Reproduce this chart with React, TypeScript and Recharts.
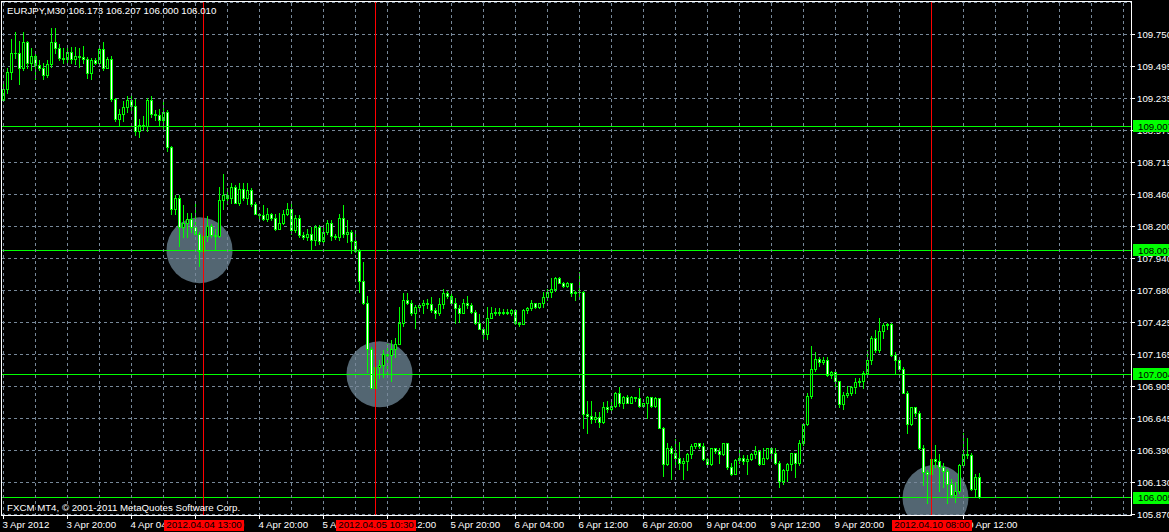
import React from "react";
import {
  ComposedChart,
  Bar,
  XAxis,
  YAxis,
  CartesianGrid,
  ReferenceLine,
  ReferenceDot,
} from "recharts";

// EURJPY M30, 3 Apr 12:00 .. 10 Apr 14:00 (245 bars); open of each bar is the previous close
const FIRST_OPEN = 109.22;
const CLOSE = [
  109.31, 109.45, 109.6, 109.6, 109.48, 109.69, 109.52, 109.58, 109.5, 109.48,
  109.42, 109.51, 109.69, 109.64, 109.56, 109.55, 109.61, 109.55, 109.58, 109.57,
  109.55, 109.44, 109.54, 109.52, 109.63, 109.48, 109.55, 109.23, 109.07, 109.11,
  109.16, 109.22, 109.17, 108.97, 109.02, 109.01, 109.22, 109.11, 109.1, 109.06,
  109.12, 108.84, 108.34, 108.43, 108.19, 108.23, 108.26, 108.19, 108.14, 108.0,
  108.12, 108.2, 108.13, 108.12, 108.41, 108.45, 108.43, 108.52, 108.39, 108.5,
  108.43, 108.49, 108.38, 108.3, 108.29, 108.26, 108.3, 108.27, 108.18, 108.23,
  108.3, 108.34, 108.17, 108.27, 108.13, 108.11, 108.14, 108.09, 108.19, 108.08,
  108.15, 108.23, 108.12, 108.11, 108.27, 108.14, 108.15, 108.08, 108.0, 107.76,
  107.58, 107.21, 106.89, 107.06, 107.08, 107.17, 107.16, 107.21, 107.25, 107.42,
  107.6, 107.58, 107.5, 107.55, 107.56, 107.58, 107.57, 107.52, 107.5, 107.57,
  107.66, 107.64, 107.58, 107.54, 107.5, 107.58, 107.56, 107.51, 107.42, 107.37,
  107.33, 107.46, 107.5, 107.51, 107.5, 107.51, 107.5, 107.52, 107.42, 107.41,
  107.52, 107.54, 107.58, 107.55, 107.58, 107.63, 107.67, 107.69, 107.78, 107.74,
  107.72, 107.74, 107.66, 107.67, 107.67, 106.68, 106.67, 106.64, 106.66, 106.62,
  106.74, 106.72, 106.75, 106.85, 106.77, 106.82, 106.77, 106.82, 106.81, 106.75,
  106.77, 106.82, 106.75, 106.81, 106.57, 106.28, 106.41, 106.37, 106.33, 106.29,
  106.3, 106.36, 106.42, 106.45, 106.42, 106.32, 106.28, 106.41, 106.38, 106.36,
  106.45, 106.25, 106.2, 106.31, 106.33, 106.3, 106.32, 106.36, 106.38, 106.28,
  106.33, 106.41, 106.37, 106.29, 106.14, 106.23, 106.28, 106.37, 106.29, 106.45,
  106.6, 106.83, 107.05, 107.13, 107.1, 107.12, 107.0, 107.02, 106.95, 106.76,
  106.84, 106.85, 106.9, 106.94, 106.95, 107.01, 107.12, 107.3, 107.2, 107.35,
  107.4, 107.41, 107.16, 107.12, 107.05, 106.85, 106.6, 106.74, 106.69, 106.41,
  106.21, 106.2, 106.32, 106.3, 106.25, 106.22, 106.12, 106.03, 106.06, 106.27,
  106.36, 106.35, 106.08, 106.173, 106.01,
];
const HIGH = [
  109.35, 109.48, 109.71, 109.77, 109.7, 109.77, 109.7, 109.64, 109.62, 109.54,
  109.52, 109.54, 109.8, 109.8, 109.67, 109.64, 109.65, 109.65, 109.65, 109.64,
  109.66, 109.57, 109.56, 109.56, 109.65, 109.69, 109.57, 109.58, 109.24, 109.15,
  109.21, 109.25, 109.25, 109.23, 109.07, 109.09, 109.24, 109.25, 109.14, 109.15,
  109.22, 109.14, 108.85, 108.45, 108.45, 108.37, 108.31, 108.31, 108.39, 108.15,
  108.17, 108.28, 108.22, 108.18, 108.52, 108.62, 108.51, 108.55, 108.53, 108.55,
  108.55, 108.55, 108.51, 108.4, 108.31, 108.37, 108.35, 108.31, 108.3, 108.31,
  108.33, 108.39, 108.39, 108.29, 108.29, 108.15, 108.18, 108.19, 108.21, 108.21,
  108.19, 108.25, 108.25, 108.14, 108.3, 108.37, 108.25, 108.17, 108.17, 108.02,
  107.91, 107.64, 107.22, 107.12, 107.12, 107.2, 107.25, 107.28, 107.3, 107.55,
  107.66, 107.66, 107.6, 107.56, 107.58, 107.6, 107.61, 107.63, 107.54, 107.62,
  107.69, 107.68, 107.66, 107.62, 107.56, 107.61, 107.64, 107.58, 107.52, 107.49,
  107.37, 107.55, 107.55, 107.54, 107.54, 107.53, 107.53, 107.53, 107.53, 107.43,
  107.53, 107.55, 107.6, 107.58, 107.58, 107.67, 107.69, 107.78, 107.79, 107.79,
  107.75, 107.75, 107.74, 107.68, 107.83, 107.68, 106.79, 106.79, 106.7, 106.7,
  106.78, 106.79, 106.78, 106.86, 106.9, 106.83, 106.84, 106.83, 106.82, 106.89,
  106.77, 106.83, 106.82, 106.82, 106.81, 106.58, 106.45, 106.42, 106.48, 106.46,
  106.33, 106.37, 106.44, 106.45, 106.45, 106.45, 106.33, 106.41, 106.41, 106.41,
  106.45, 106.45, 106.29, 106.32, 106.39, 106.35, 106.35, 106.37, 106.42, 106.39,
  106.41, 106.41, 106.41, 106.41, 106.3, 106.24, 106.29, 106.37, 106.37, 106.47,
  106.61, 106.85, 107.23, 107.18, 107.14, 107.14, 107.14, 107.03, 107.03, 106.95,
  106.86, 106.91, 106.91, 106.97, 106.97, 107.03, 107.2, 107.31, 107.36, 107.46,
  107.42, 107.42, 107.42, 107.18, 107.13, 107.06, 106.87, 106.74, 106.74, 106.71,
  106.43, 106.23, 106.32, 106.43, 106.36, 106.29, 106.24, 106.16, 106.13, 106.28,
  106.53, 106.49, 106.37, 106.2, 106.207,
];
const LOW = [
  109.22, 109.28, 109.39, 109.56, 109.35, 109.46, 109.48, 109.46, 109.39, 109.46,
  109.39, 109.41, 109.49, 109.6, 109.54, 109.52, 109.51, 109.52, 109.51, 109.49,
  109.52, 109.4, 109.39, 109.51, 109.51, 109.46, 109.48, 109.21, 109.05, 109.02,
  109.05, 109.12, 109.14, 108.94, 108.92, 108.98, 108.97, 109.08, 109.06, 109.02,
  108.98, 108.81, 108.3, 108.3, 108.04, 108.11, 108.11, 108.15, 108.14, 107.88,
  107.97, 108.08, 108.11, 108.02, 108.11, 108.34, 108.38, 108.39, 108.39, 108.37,
  108.41, 108.38, 108.36, 108.3, 108.27, 108.25, 108.24, 108.25, 108.17, 108.18,
  108.22, 108.29, 108.14, 108.15, 108.11, 108.1, 108.09, 108.01, 108.05, 108.06,
  108.06, 108.14, 108.09, 108.1, 108.09, 108.11, 108.07, 107.98, 107.99, 107.67,
  107.57, 107.02, 106.89, 106.86, 106.97, 106.98, 107.01, 106.95, 107.14, 107.25,
  107.39, 107.57, 107.48, 107.38, 107.52, 107.5, 107.54, 107.51, 107.46, 107.48,
  107.54, 107.62, 107.58, 107.42, 107.43, 107.5, 107.54, 107.5, 107.41, 107.37,
  107.28, 107.29, 107.46, 107.48, 107.48, 107.49, 107.49, 107.48, 107.41, 107.39,
  107.41, 107.5, 107.52, 107.54, 107.54, 107.55, 107.6, 107.63, 107.68, 107.74,
  107.71, 107.71, 107.64, 107.6, 107.64, 106.57, 106.53, 106.61, 106.62, 106.58,
  106.61, 106.7, 106.69, 106.74, 106.75, 106.73, 106.77, 106.77, 106.79, 106.74,
  106.74, 106.65, 106.74, 106.74, 106.57, 106.18, 106.27, 106.16, 106.25, 106.24,
  106.16, 106.23, 106.33, 106.41, 106.41, 106.31, 106.27, 106.27, 106.37, 106.29,
  106.35, 106.24, 106.19, 106.2, 106.29, 106.28, 106.2, 106.31, 106.33, 106.27,
  106.28, 106.32, 106.33, 106.28, 106.09, 106.12, 106.14, 106.23, 106.17, 106.27,
  106.43, 106.59, 106.81, 107.03, 107.07, 107.09, 106.99, 106.97, 106.89, 106.74,
  106.72, 106.82, 106.84, 106.85, 106.91, 106.89, 106.99, 107.09, 107.18, 107.18,
  107.3, 107.37, 107.15, 107.01, 107.03, 106.85, 106.53, 106.59, 106.67, 106.4,
  106.11, 105.96, 106.19, 106.25, 106.06, 106.09, 105.96, 106.01, 105.97, 106.04,
  106.25, 106.33, 106.07, 106.01, 106.0,
];

const SLOTS = 282; // bar slots that fit in the window
const PRICE_TICKS = [
  109.75, 109.495, 109.235, 108.975, 108.715, 108.46, 108.2, 107.94,
  107.68, 107.425, 107.165, 106.905, 106.645, 106.39, 106.13, 105.87,
];
const LEVELS = [109.007, 108.007, 107.004, 106.005];
const TIME_LABELS = [
  "3 Apr 2012", "3 Apr 20:00", "4 Apr 04:00", "4 Apr 12:00", "4 Apr 20:00",
  "5 Apr 04:00", "5 Apr 12:00", "5 Apr 20:00", "6 Apr 04:00", "6 Apr 12:00",
  "6 Apr 20:00", "9 Apr 04:00", "9 Apr 12:00", "9 Apr 20:00", "10 Apr 04:00",
  "10 Apr 12:00",
];
const MARK_BARS = [50, 93, 232];
const MARK_LABELS = ["2012.04.04 13:00", "2012.04.05 10:30", "2012.04.10 08:00"];
const CIRCLE_BARS = [49, 94, 233];
const CIRCLE_PRICES = [108.007, 107.004, 106.005];

const LIME = "#00ff00";
const RED = "#ff0000";
const GRID = "#778899";
const FONT = "Liberation Sans, Arial, sans-serif";
const FS = 9.7;
const PLOT_TOP = 2;

const rows = Array.from({ length: SLOTS }, (_, i) => {
  if (i >= CLOSE.length) return { i };
  const open = i === 0 ? FIRST_OPEN : CLOSE[i - 1];
  return { i, open, close: CLOSE[i], high: HIGH[i], low: LOW[i], range: [LOW[i], HIGH[i]] };
});

// grid every 8 bars (4 h), labels every 16 bars (8 h)
const gridTicks = Array.from({ length: 36 }, (_, k) => k * 8).filter((t) => !MARK_BARS.includes(t));
const xTicks = [...gridTicks, ...MARK_BARS];
const yTicks = [...PRICE_TICKS, ...LEVELS];

function Candle(props: any) {
  const { x, y, width, height, payload } = props;
  if (!payload || payload.close == null) return <g />;
  const { open, close, high, low } = payload;
  const top = Math.min(y, y + height);
  const span = Math.abs(height);
  const toY = (p: number) => top + ((high - p) / (high - low)) * span;
  const cx = Math.floor(x + width / 2);
  const hi = Math.round(toY(Math.max(high, open, close)));
  const lo = Math.round(toY(Math.min(low, open, close)));
  const bt = Math.round(toY(Math.max(open, close)));
  const bb = Math.round(toY(Math.min(open, close)));
  const bear = close < open;
  return (
    <g>
      <rect x={cx} y={hi} width={1} height={Math.max(1, lo - hi + 1)} fill={LIME} />
      <rect x={cx - 1} y={bt} width={3} height={bb - bt + 1} fill={LIME} />
      {bb - bt > 1 && (
        <rect x={cx} y={bt + 1} width={1} height={bb - bt - 1} fill={bear ? "#ffffff" : "#000000"} />
      )}
    </g>
  );
}

function TimeTick({ x, y, payload }: any) {
  const v = payload.value;
  const col = Math.floor(x);
  const m = MARK_BARS.indexOf(v);
  if (m >= 0) {
    // marker: red vertical through the plot plus its date box on the axis
    return (
      <g>
        <rect x={col} y={PLOT_TOP} width={1} height={y - PLOT_TOP} fill={RED} style={{ fill: RED }} />
        <rect x={col - 39} y={y + 5} width={80} height={11} fill={RED} />
        <text x={x + 0.5} y={y + 13} textAnchor="middle" fill="#000" fontFamily={FONT} fontSize={FS}>
          {MARK_LABELS[m]}
        </text>
      </g>
    );
  }
  const label = v % 16 === 0 ? TIME_LABELS[v / 16] : undefined;
  return (
    <g>
      <line
        x1={col + 0.5}
        x2={col + 0.5}
        y1={PLOT_TOP + 1}
        y2={y}
        stroke={GRID}
        strokeWidth={1}
        strokeDasharray="3 3"
      />
      {label && <rect x={col} y={y} width={1} height={4} fill="#fff" />}
      {label && (
        <text x={x - 1} y={y + 13} fill="#fff" fontFamily={FONT} fontSize={FS}>
          {label}
        </text>
      )}
    </g>
  );
}

function PriceTick({ x, y, payload }: any) {
  const v = payload.value;
  if (LEVELS.includes(v)) {
    return (
      <g>
        <rect x={x + 2} y={Math.round(y) - 6} width={40} height={12} fill={LIME} />
        <text x={x + 7} y={y + 3.5} fill="#000" fontFamily={FONT} fontSize={FS}>
          {v.toFixed(3)}
        </text>
      </g>
    );
  }
  return (
    <g>
      <rect x={x + 1} y={Math.floor(y)} width={3} height={1} fill="#fff" />
      <text x={x + 6} y={y + 3.5} fill="#fff" fontFamily={FONT} fontSize={FS}>
        {v.toFixed(3)}
      </text>
    </g>
  );
}

export default function App() {
  return (
    <div style={{ position: "relative", width: 1169, height: 532, background: "#000" }}>
      <style>{`
        body { margin: 0; background: #000; }
        svg { display: block; }
        .recharts-cartesian-grid line, .recharts-reference-line line { shape-rendering: crispEdges; }
      `}</style>
      <ComposedChart
        width={1169}
        height={532}
        data={rows}
        margin={{ top: PLOT_TOP, right: 0, bottom: 0, left: 1.5 }}
      >
        {CIRCLE_BARS.map((b, k) => (
          <ReferenceDot
            key={"c" + b}
            x={b}
            y={CIRCLE_PRICES[k]}
            r={33}
            fill="#536672"
            fillOpacity={1}
            stroke="none"
            ifOverflow="hidden"
            zIndex={-150}
          />
        ))}
        <CartesianGrid stroke={GRID} strokeDasharray="3 3" vertical={false} />
        <XAxis
          dataKey="i"
          type="category"
          ticks={xTicks}
          interval={0}
          height={17}
          padding={{ left: 0, right: 1.5 }}
          axisLine={false}
          tickLine={false}
          tickSize={0}
          tickMargin={0}
          tick={<TimeTick />}
        />
        <YAxis
          orientation="right"
          type="number"
          domain={[105.866, 110.0127]}
          allowDataOverflow
          ticks={yTicks}
          interval={0}
          width={38}
          axisLine={false}
          tickLine={false}
          tickSize={0}
          tickMargin={0}
          tick={<PriceTick />}
        />
        <Bar dataKey="range" shape={<Candle />} isAnimationActive={false} />
        {LEVELS.map((lv) => (
          <ReferenceLine key={"l" + lv} y={lv} stroke={LIME} strokeWidth={1} zIndex={700} />
        ))}
      </ComposedChart>
      <svg
        width={1169}
        height={532}
        style={{ position: "absolute", left: 0, top: 0, pointerEvents: "none" }}
      >
        <rect x={1.5} y={1.5} width={1130} height={514} fill="none" stroke="#fff" strokeWidth={1} />
        <text x={7} y={14} fill="#fff" fontFamily={FONT} fontSize={FS}>
          EURJPY,M30  106.173 106.207 106.000 106.010
        </text>
        <text x={7} y={510.5} fill="#fff" fontFamily={FONT} fontSize={FS}>
          FXCM MT4, © 2001-2011 MetaQuotes Software Corp.
        </text>
      </svg>
    </div>
  );
}
